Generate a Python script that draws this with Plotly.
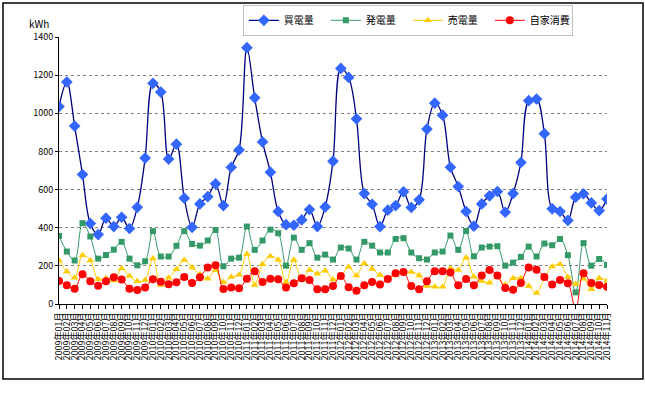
import plotly.graph_objects as go

months = [f"{y}年{m:02d}月" for y in range(2009, 2015) for m in range(1, 13)][:71]

buy = [1035, 1164, 933, 679, 422, 364, 450, 406, 455, 396, 507, 765,
       1157, 1111, 760, 838, 555, 402, 525, 563, 630, 516, 717, 808,
       1344, 1081, 850, 691, 485, 416, 413, 441, 495, 406, 509, 749,
       1235, 1188, 971, 579, 523, 406, 492, 516, 588, 506, 546, 917,
       1053, 990, 717, 616, 485, 408, 525, 567, 590, 481, 579, 742,
       1066, 1075, 893, 499, 485, 438, 560, 578, 530, 490, 550]

gen = [357, 275, 228, 424, 354, 238, 257, 285, 326, 238, 203, 224,
       382, 249, 249, 305, 382, 315, 306, 333, 388, 198, 238, 243,
       406, 284, 333, 390, 371, 201, 348, 284, 319, 243, 259, 233,
       296, 291, 233, 326, 306, 270, 270, 341, 345, 270, 240, 233,
       270, 275, 359, 284, 383, 250, 296, 301, 303, 201, 217, 247,
       301, 249, 317, 308, 341, 256, 61, 319, 201, 236, 205]

sell = [228, 170, 138, 256, 228, 130, 135, 123, 186, 147, 119, 126,
        238, 100, 137, 182, 231, 191, 156, 133, 178, 114, 142, 154,
        262, 100, 208, 250, 231, 114, 231, 124, 178, 159, 175, 128,
        147, 194, 150, 213, 184, 152, 135, 152, 165, 168, 150, 95,
        91, 91, 186, 178, 243, 143, 121, 112, 142, 100, 135, 135,
        95, 58, 135, 196, 208, 142, 105, 133, 77, 135, 122]

selfuse = [121, 98, 80, 156, 119, 96, 119, 140, 128, 80, 73, 86,
           130, 117, 103, 114, 142, 110, 140, 192, 203, 79, 86, 82,
           133, 172, 116, 133, 130, 86, 109, 135, 126, 77, 77, 95,
           147, 88, 70, 98, 116, 102, 131, 161, 168, 95, 77, 119,
           172, 172, 165, 98, 131, 98, 149, 178, 149, 84, 75, 110,
           192, 180, 142, 102, 126, 109, -30, 161, 110, 100, 90]

y_ticks = [0, 200, 400, 600, 800, 1000, 1200, 1400]

fig = go.Figure()
fig.add_trace(go.Scatter(x=months, y=buy, name="買電量", mode="lines+markers",
                         line=dict(color="#000080", width=1.3, shape="spline", smoothing=1.0),
                         marker=dict(symbol="diamond", size=9, color="#3366FF")))
fig.add_trace(go.Scatter(x=months, y=gen, name="発電量", mode="lines+markers",
                         line=dict(color="#339966", width=1, shape="spline", smoothing=1.0),
                         marker=dict(symbol="square", size=6, color="#339966")))
fig.add_trace(go.Scatter(x=months, y=sell, name="売電量", mode="lines+markers",
                         line=dict(color="#FFCC00", width=1, shape="spline", smoothing=1.0),
                         marker=dict(symbol="triangle-up", size=7, color="#FFCC00")))
fig.add_trace(go.Scatter(x=months, y=selfuse, name="自家消費", mode="lines+markers",
                         line=dict(color="#FF0000", width=1, shape="spline", smoothing=1.0),
                         marker=dict(symbol="circle", size=8, color="#FF0000")))

font_family = "Noto Sans CJK JP, DejaVu Sans, sans-serif"

fig.update_layout(
    width=645, height=396,
    margin=dict(l=59, r=38, t=37, b=92, autoexpand=False),
    paper_bgcolor="white", plot_bgcolor="white",
    font=dict(family=font_family, size=9, color="black"),
    showlegend=True,
    legend=dict(orientation="h", x=0.3355, y=1.1205, xanchor="left", yanchor="top",
                bgcolor="white", bordercolor="#C0C0C0", borderwidth=1,
                font=dict(size=10, family=font_family),
                entrywidth=37, entrywidthmode="pixels", itemwidth=30),
    xaxis=dict(type="category", range=[0, 70], tickmode="array",
               tickvals=months, ticktext=months, tickangle=-90,
               tickfont=dict(size=9), showgrid=False, zeroline=False,
               showline=True, linecolor="black", linewidth=1,
               ticks="outside", ticklen=4, tickcolor="black", automargin=False),
    yaxis=dict(range=[0, 1400], tickvals=y_ticks, tickfont=dict(size=9),
               showgrid=True, gridcolor="#808080", griddash="3px,3px", gridwidth=1,
               zeroline=False, showline=True, linecolor="black", linewidth=1,
               ticks="outside", ticklen=3, tickcolor="black", automargin=False),
)

fig.add_annotation(text="kWh", xref="paper", yref="paper",
                   x=-0.037, y=1.05, showarrow=False, font=dict(size=10),
                   xanchor="center", yanchor="middle")

fig.add_shape(type="rect", xref="paper", yref="paper",
              x0=(3 - 59) / 548, x1=(643 - 59) / 548,
              y0=(304 - 379) / 267, y1=(304 - 3) / 267,
              line=dict(color="black", width=1.5), fillcolor="rgba(0,0,0,0)", layer="above")

fig.write_html("out.html",
               config={"displayModeBar": False},
               post_script="document.body.style.margin='0';document.body.style.overflow='hidden';")
